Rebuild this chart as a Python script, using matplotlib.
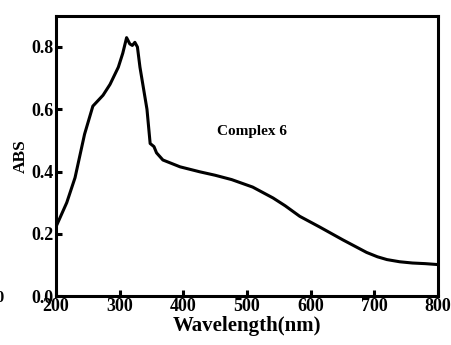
import numpy as np
import matplotlib.pyplot as plt

### UV-vis absorbance of complex 6
wavelength = [200, 217, 230, 245, 258, 274, 285, 298, 305, 311, 316, 320, 324, 328,
              332, 343, 348, 354, 358, 368, 395, 426, 450, 476, 509, 541, 560, 583, 614,
              651, 688, 705, 720, 740, 760, 780, 800]
absorbance = [0.222, 0.30, 0.38, 0.52, 0.61, 0.645, 0.68, 0.735, 0.78, 0.83, 0.81, 0.805,
              0.815, 0.80, 0.735, 0.60, 0.49, 0.48, 0.46, 0.437, 0.415, 0.399, 0.388, 0.374,
              0.35, 0.315, 0.29, 0.256, 0.222, 0.18, 0.140, 0.126, 0.117, 0.110, 0.106,
              0.104, 0.101]
xticks = [200, 300, 400, 500, 600, 700, 800]
yticks = [0.0, 0.2, 0.4, 0.6, 0.8]

plt.rcParams['font.family'] = ['Liberation Serif', 'DejaVu Serif']
plt.rcParams['font.weight'] = 'bold'

fig = plt.figure(figsize=(4.51, 3.45), dpi=100)
ax = fig.add_axes([0.124, 0.142, 0.847, 0.812])

ax.plot(wavelength, absorbance, color='black', lw=2.2, solid_joinstyle='round')

ax.set_xlim(200, 800)
ax.set_ylim(0, 0.9)
ax.set_xticks(xticks)
ax.set_yticks(yticks)
ax.set_xticklabels([str(t) for t in xticks], fontsize=13, fontweight='bold')
ax.set_yticklabels(['%.1f' % t for t in yticks], fontsize=13, fontweight='bold')
ax.tick_params(direction='in', width=2.2, length=4, pad=1.5)

for s in ax.spines.values():
    s.set_linewidth(2.2)

ax.set_xlabel('Wavelength(nm)', fontsize=15, fontweight='bold', labelpad=1)
ax.set_ylabel('ABS', fontsize=12.5, fontweight='bold', labelpad=2)

ax.text(508, 0.53, 'Complex 6', fontsize=11, fontweight='bold', ha='center', va='center')

# clipped leftover label at the left edge of the original image
fig.text(0.0, 0.135, '0', fontsize=12, fontweight='bold', ha='center', va='center')

fig.savefig('out.png', dpi=100)
